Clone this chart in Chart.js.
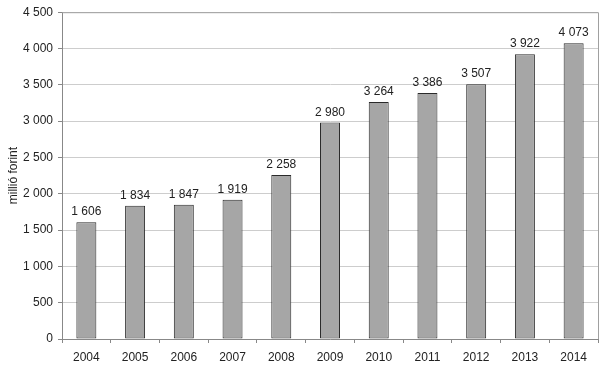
<!DOCTYPE html>
<html lang="hu">
<head>
  <meta charset="UTF-8">
  <title>millió forint</title>
  <script src="https://cdn.jsdelivr.net/npm/chart.js"></script>
  <style>
    html, body { margin: 0; padding: 0; background: #fff; }
    #wrap { width: 605px; height: 368px; }
  </style>
</head>
<body>
  <div id="wrap"><canvas id="chart" width="605" height="368"></canvas></div>

  <script>
    const years = ['2004', '2005', '2006', '2007', '2008', '2009', '2010', '2011', '2012', '2013', '2014'];
    const values = [1606, 1834, 1847, 1919, 2258, 2980, 3264, 3386, 3507, 3922, 4073];
    const yMax = 4500;
    const yStep = 500;

    const fmt = n => String(n).replace(/\B(?=(\d{3})+(?!\d))/g, ' ');

    // labels above bars + frame around plot area
    const extras = {
      id: 'extras',
      beforeDatasetsDraw(chart) {
        const { ctx, chartArea: a } = chart;
        ctx.save();
        ctx.strokeStyle = '#a0a0a0';
        ctx.lineWidth = 1;
        ctx.beginPath();
        ctx.moveTo(a.left, a.top + 0.5);
        ctx.lineTo(a.right + 0.5, a.top + 0.5);
        ctx.lineTo(a.right + 0.5, a.bottom);
        ctx.stroke();
        ctx.restore();
      },
      afterDatasetsDraw(chart) {
        const { ctx } = chart;
        const meta = chart.getDatasetMeta(0);
        ctx.save();
        ctx.font = '12px "Liberation Sans", Arial, sans-serif';
        ctx.fillStyle = '#222';
        ctx.textAlign = 'center';
        ctx.textBaseline = 'alphabetic';
        meta.data.forEach((bar, i) => {
          ctx.fillText(fmt(values[i]), bar.x, bar.y - 7);
        });
        ctx.restore();
      }
    };

    new Chart(document.getElementById('chart'), {
      type: 'bar',
      data: {
        labels: years,
        datasets: [{
          data: values,
          backgroundColor: '#a6a6a6',
          borderColor: '#2a2a2a',
          borderWidth: 1,
          borderSkipped: false,
          categoryPercentage: 1,
          barPercentage: 0.41
        }]
      },
      options: {
        responsive: false,
        animation: false,
        layout: { padding: { top: 11, right: 7, bottom: 0, left: 0 } },
        plugins: {
          legend: { display: false },
          tooltip: { enabled: false }
        },
        scales: {
          x: {
            offset: true,
            grid: {
              offset: true,
              drawOnChartArea: false,
              tickLength: 4,
              tickColor: '#888'
            },
            border: { color: '#888' },
            ticks: {
              color: '#222',
              padding: 7,
              font: { family: '"Liberation Sans", Arial, sans-serif', size: 12 }
            },
            afterFit(scale) { scale.height = 29; }
          },
          y: {
            min: 0,
            max: yMax,
            grid: {
              color: '#cdcdcd',
              tickLength: 4,
              tickColor: '#888'
            },
            border: { color: '#888' },
            ticks: {
              stepSize: yStep,
              color: '#222',
              padding: 5,
              font: { family: '"Liberation Sans", Arial, sans-serif', size: 12 },
              callback: v => fmt(v)
            },
            title: {
              display: true,
              text: 'millió forint',
              color: '#222',
              padding: { top: 6, bottom: 0 },
              font: { family: '"Liberation Sans", Arial, sans-serif', size: 12 }
            },
            afterFit(scale) { scale.width = 62; }
          }
        }
      },
      plugins: [extras]
    });
  </script>
</body>
</html>
